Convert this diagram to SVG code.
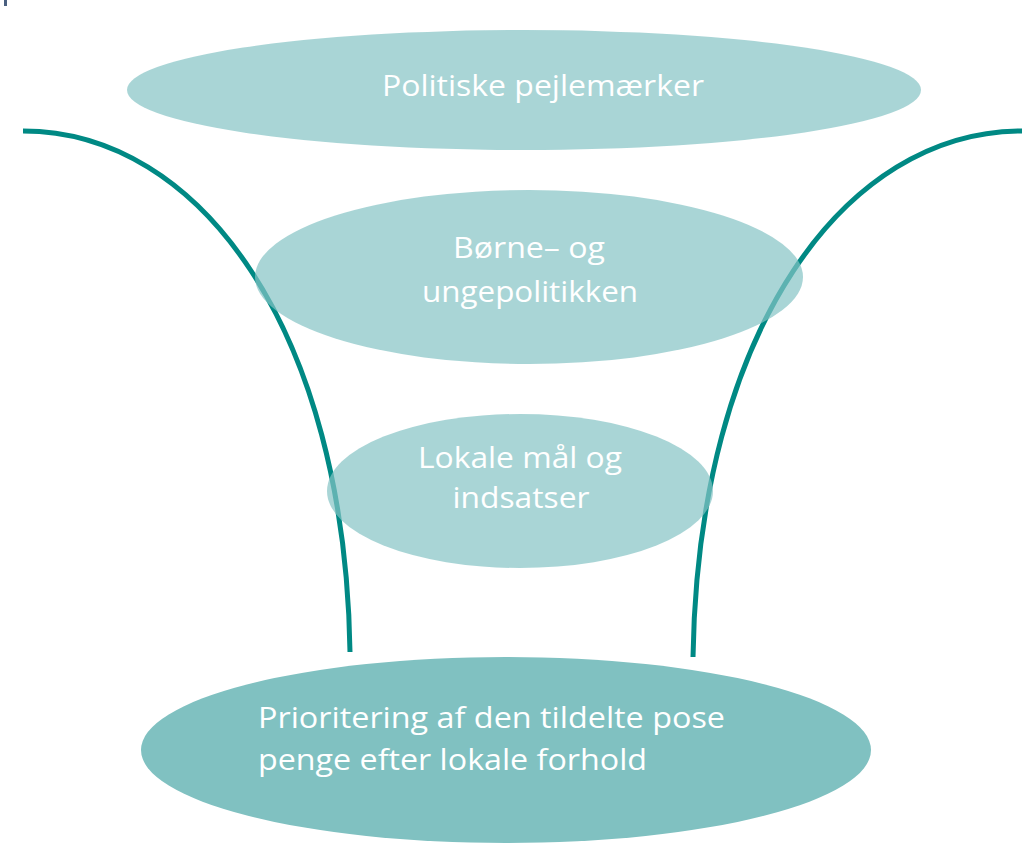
<svg xmlns="http://www.w3.org/2000/svg" width="1027" height="847" viewBox="0 0 1027 847">
<style>
.curve{fill:none;stroke:#008984;stroke-width:5}
.lt{fill:#84c3c4;fill-opacity:0.7}
.t{font-family:"Open Sans","Liberation Sans",sans-serif;font-size:30px;fill:#ffffff}
.c{text-anchor:middle}
</style>
<rect width="1027" height="847" fill="#ffffff"/>
<rect x="4" y="0" width="3" height="6" fill="#4a6080"/>
<g id="connectors">
<path class="curve" d="M23,131 C200,131 345,330 350,652"/>
<path class="curve" d="M1022,131 C845,131 698,330 693,657"/>
</g>
<g id="node1">
<ellipse class="lt" cx="524" cy="90" rx="397" ry="60"/>
<text class="t c" x="543" y="96" textLength="322" lengthAdjust="spacingAndGlyphs">Politiske pejlemærker</text>
</g>
<g id="node2">
<ellipse class="lt" cx="529" cy="277" rx="274" ry="87"/>
<text class="t c" x="529" y="258" textLength="152" lengthAdjust="spacingAndGlyphs">Børne– og</text>
<text class="t c" x="530" y="302" textLength="216" lengthAdjust="spacingAndGlyphs">ungepolitikken</text>
</g>
<g id="node3">
<ellipse class="lt" cx="520" cy="491" rx="193" ry="77"/>
<text class="t c" x="520" y="468" textLength="204" lengthAdjust="spacingAndGlyphs">Lokale mål og</text>
<text class="t c" x="521" y="508" textLength="137" lengthAdjust="spacingAndGlyphs">indsatser</text>
</g>
<g id="node4">
<ellipse cx="506" cy="750" rx="365" ry="93" fill="#80c1c1"/>
<text class="t" x="258" y="728" textLength="467" lengthAdjust="spacingAndGlyphs">Prioritering af den tildelte pose</text>
<text class="t" x="258" y="770" textLength="389" lengthAdjust="spacingAndGlyphs">penge efter lokale forhold</text>
</g>
</svg>
